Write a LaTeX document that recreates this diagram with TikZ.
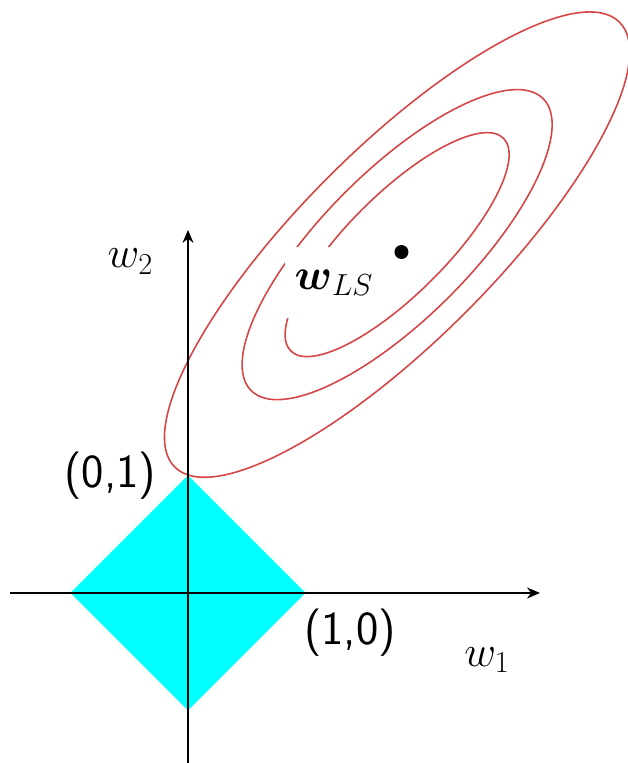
\documentclass[tikz,border=0pt]{standalone}
\usepackage{amsmath,amssymb}
\usepackage{xcolor}
\usepackage{tikz}
\usetikzlibrary{arrows.meta,positioning}
\definecolor{contred}{HTML}{D64545}
\definecolor{ballcyan}{HTML}{00FFFF}
\tikzset{
  axis/.style={-{Stealth[length=2.6mm,width=2.2mm]},line width=1.1pt,black},
  contour/.style={contred,line width=0.9pt},
  lab/.style={font=\fontsize{25}{30}\selectfont,inner sep=1pt},
  hand/.style={font=\fontsize{27}{32}\sffamily,inner sep=1pt}
}

\begin{document}
\begin{tikzpicture}[x=2.35cm,y=2.35cm]
\useasboundingbox (-1.6,-1.447) rectangle (3.745,5.047);
\coordinate (O) at (0,0);
\coordinate (xs) at (-1.515,0);
\coordinate (xe) at (2.996,0);
\coordinate (ys) at (0,-1.447);
\coordinate (ye) at (0,3.09);
% l1 ball
\fill[ballcyan] (1,0)--(0,1)--(-1,0)--(0,-1)--cycle;
% contours of the loss
\begin{scope}[shift={(1.78,2.965)},rotate=45]
\foreach \ra/\rb in {1.28/0.422,1.757/0.627,2.677/0.82}
  \draw[contour] (0,0) ellipse [x radius=\ra, y radius=\rb];
\end{scope}
\draw[axis] (xs)--(xe);
\draw[axis] (ys)--(ye);
\node[circle,fill,inner sep=0pt,minimum size=0.28cm] (wls) at (1.817,2.902) {};
\node[lab,fill=white,minimum width=1.96cm,minimum height=1.42cm,font=\fontsize{27}{32}\selectfont] (wlab) at (1.243,2.64) {$\boldsymbol{w}_{LS}$};
\node[lab] (w2) at (-0.49,2.82) {$w_2$};
\node[lab] (w1) at (2.545,-0.57) {$w_1$};
\node[hand] (p01) at (-0.66,1.0) {(0,1)};
\node[hand] (p10) at (1.38,-0.34) {(1,0)};
\end{tikzpicture}
\end{document}
